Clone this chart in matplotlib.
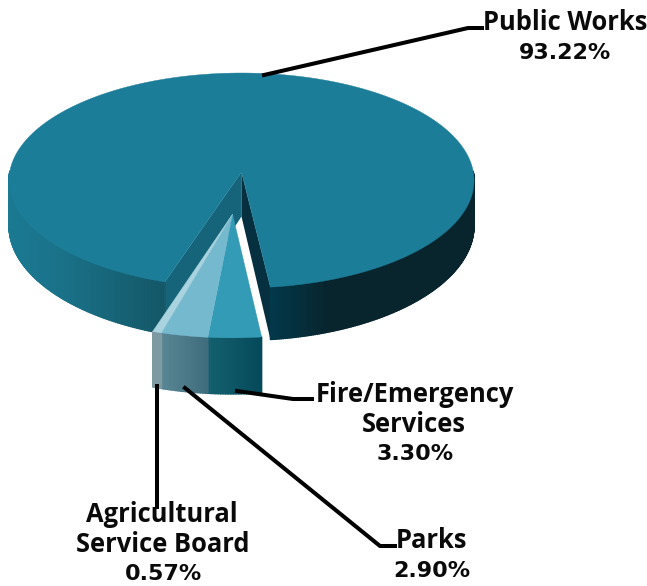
import matplotlib

matplotlib.use("Agg")
import matplotlib.pyplot as plt
import numpy as np
from matplotlib.collections import PolyCollection
from matplotlib.colors import to_rgb

# shares in percent
departments = ["Public Works", "Fire/Emergency", "Parks", "Agricultural"]
shares = [93.22, 3.30, 2.90, 0.57]

top_colors = ["#1c7d99", "#339bb5", "#75b9cf", "#a9d3df"]
# wall shading, (screen x, colour) stops per slice
wall_stops = [
    [(9, "#1a7a92"), (60, "#1a7289"), (163, "#145868"), (271, "#02394a"), (330, "#08242d"), (474, "#08242d")],
    [(208, "#14606f"), (264, "#044858")],
    [(160, "#5a8795"), (208, "#3f6c7c")],
    [(150, "#7d9aa3"), (160, "#7d9aa3")],
]

# camera set-up for the tilted disc, in image pixels
CX, CY = 241.5, 172.0
SX, SY = 231.8, 106.8
PERSP = 0.079
DEPTH = 44.5
START = 6.6  # bearing of the first cut, degrees right of the viewer direction
EXPLODE = 0.385


def project(x, y, z=0.0):
    w = 1 - PERSP * y
    return CX + SX * x / w, CY + SY * y / w + z * DEPTH / w**2


def rim(phi0, phi1, off, n):
    phi = np.radians(np.linspace(phi0, phi1, n))
    return off[0] + np.sin(phi), off[1] + np.cos(phi)


def wall_colors(xs, stops):
    pos = [s[0] for s in stops]
    rgb = np.array([to_rgb(s[1]) for s in stops])
    return np.column_stack([np.interp(xs, pos, rgb[:, i]) for i in range(3)])


def draw_wall(ax, phi0, phi1, off, stops, zorder):
    n = max(3, int(abs(phi1 - phi0)) * 2)
    x, y = rim(phi0, phi1, off, n)
    tx, ty = project(x, y)
    bx, by = project(x, y, 1.0)
    # strips on the far side are hidden anyway, their edges would only show round the top
    keep = [i for i in range(n - 1) if y[i] > -0.01 and y[i + 1] > -0.01]
    quads = [
        [(tx[i], ty[i]), (tx[i + 1], ty[i + 1]), (bx[i + 1], by[i + 1]), (bx[i], by[i])]
        for i in keep
    ]
    cols = wall_colors((tx[keep] + tx[[i + 1 for i in keep]]) / 2, stops)
    ax.add_collection(
        PolyCollection(quads, facecolors=cols, edgecolors=cols, linewidths=1.0, zorder=zorder)
    )


def draw_top(ax, phi0, phi1, off, color, zorder):
    n = max(3, int(abs(phi1 - phi0)) * 2)
    x, y = rim(phi0, phi1, off, n)
    x = np.append(x, off[0])
    y = np.append(y, off[1])
    ax.fill(*project(x, y), color=color, lw=0.3, zorder=zorder)


def draw_cut(ax, phi, color, zorder):
    x, y = rim(phi, phi, (0, 0), 1)
    px = [0, x[0], x[0], 0]
    py = [0, y[0], y[0], 0]
    pz = np.array([0, 0, 1, 1])
    sx, sy = project(np.array(px), np.array(py), pz)
    ax.fill(sx, sy, color=color, lw=0, zorder=zorder)


fig = plt.figure(figsize=(6.47, 5.86), dpi=100)
ax = fig.add_axes([0, 0, 1, 1])
ax.set_xlim(0, 647)
ax.set_ylim(586, 0)
ax.axis("off")

spans = [s * 3.6 for s in shares]
small_total = sum(spans[1:])
main_end = START + spans[0]

# big slice first: cut faces, outer wall, then the top
draw_cut(ax, main_end, "#15647a", 1)
draw_cut(ax, START, "#06303f", 1)
draw_wall(ax, START, main_end, (0, 0), wall_stops[0], 2)
draw_top(ax, START, main_end, (0, 0), top_colors[0], 3)

# the three small slices are pulled out together
mid = np.radians(START - small_total / 2)
off = (EXPLODE * np.sin(mid), EXPLODE * np.cos(mid))
phi = START
for span, stops, color in zip(spans[1:], wall_stops[1:], top_colors[1:]):
    draw_wall(ax, phi, phi - span, off, stops, 4)
    draw_top(ax, phi, phi - span, off, color, 5)
    phi -= span

# leader lines
leaders = [
    ([264, 468, 482], [75, 28, 28]),
    ([237, 293, 312], [391, 399, 399]),
    ([185, 380, 395], [388, 546, 546]),
    ([157, 157], [386, 507]),
]
for lx, ly in leaders:
    ax.plot(lx, ly, color="black", lw=2.9, solid_joinstyle="round", zorder=6)

names = [
    ("Public Works", 565, 22),
    ("Fire/Emergency", 415, 394),
    ("Services", 414, 424),
    ("Parks", 432, 540),
    ("Agricultural", 162, 514),
    ("Service Board", 163, 545),
]
percents = [(565, 53), (415, 454), (432, 571), (164, 574)]

for text, tx, ty in names:
    ax.text(
        tx, ty, text, ha="center", va="center", fontsize=18.4,
        fontweight="bold", family="Open Sans", color="#0a0a0a", zorder=7,
    )
for share, (tx, ty) in zip(shares, percents):
    ax.text(
        tx, ty, f"{share:.2f}%", ha="center", va="center", fontsize=16,
        fontweight="bold", family="DejaVu Sans", color="#0a0a0a", zorder=7,
    )

fig.savefig("out.png", dpi=100)
